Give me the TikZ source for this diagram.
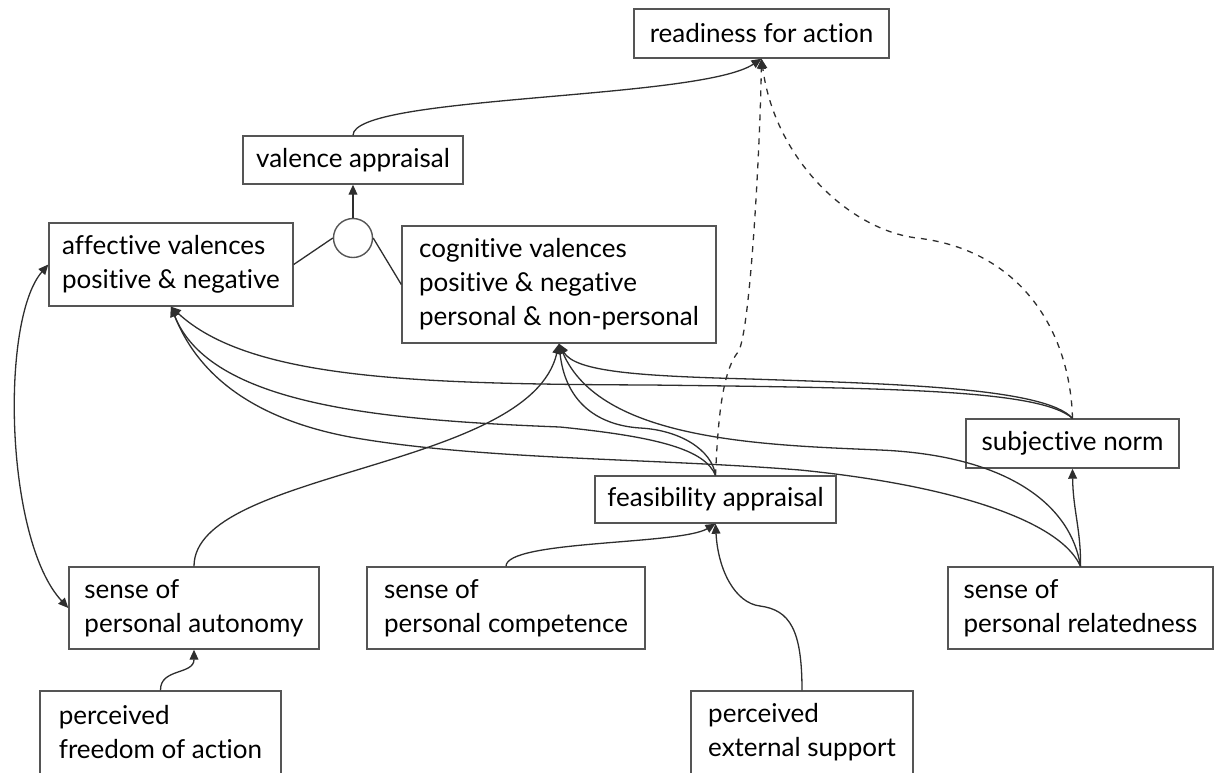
\documentclass[tikz,border=0pt]{standalone}
\usepackage{fontspec}
\setmainfont{Lato}[Ligatures={NoCommon}]
\usetikzlibrary{arrows.meta}
\definecolor{framegray}{HTML}{555555}
\definecolor{linegray}{HTML}{2E2E2E}
\begin{document}
\begin{tikzpicture}[x=0.5pt,y=-0.5pt,
  font=\fontsize{13}{17}\selectfont,
  box/.style={draw=framegray, line width=0.7pt, align=left, inner xsep=6pt, inner ysep=0pt},
  conn/.style={draw=linegray, line width=0.65pt},
  tip/.style={-{Triangle[length=5pt,width=4.4pt]}},
  twotips/.style={{Triangle[length=5pt,width=4.4pt]}-{Triangle[length=5pt,width=4.4pt]}}]
\useasboundingbox (0,0) rectangle (1215,772);

% boxes
\node[box, minimum width=127.5pt, minimum height=24.5pt] (read) at (761.5,33.5) {readiness for action};
\node[box, minimum width=110pt, minimum height=24pt] (val) at (353,160) {valence appraisal};
\node[draw=framegray, line width=0.7pt, circle, minimum size=19.5pt, inner sep=0pt] (join) at (353,238) {};
\node[box, minimum width=122pt, minimum height=41.5pt] (aff) at (171,264.5) {affective valences\\positive \& negative};
\node[box, minimum width=157pt, minimum height=58.5pt] (cog) at (559,284.5) {cognitive valences\\positive \& negative\\personal \& non-personal};
\node[box, minimum width=106.5pt, minimum height=24.5pt] (norm) at (1072.5,443.5) {subjective norm};
\node[box, minimum width=120.5pt, minimum height=23.5pt] (feas) at (715.5,499.5) {feasibility appraisal};
\node[box, minimum width=125pt, minimum height=41pt] (autonomy) at (194,608) {sense of\\personal autonomy};
\node[box, minimum width=139pt, minimum height=41pt] (comp) at (506,608) {sense of\\personal competence};
\node[box, minimum width=132.5pt, minimum height=41pt] (rel) at (1080.5,608) {sense of\\personal relatedness};
\node[box, minimum width=120.5pt, minimum height=41.5pt] (free) at (160.5,732.5) {perceived\\freedom of action};
\node[box, minimum width=111pt, minimum height=41.5pt] (ext) at (802,732.5) {perceived\\external support};

% valence side
\draw[conn,tip] (val.north) .. controls (353,95) and (700,100) .. (read.south);
\draw[conn,tip] (join.north) -- (val.south);
\draw[conn] (aff.east) -- (join.west);
\draw[conn] (join.east) -- (cog.west);

% sources of the valences
\draw[conn,twotips] (aff.west) .. controls (0,320) and (5,540) .. (autonomy.west);
\draw[conn,tip] (free.north) .. controls (160,668) and (194,675) .. (autonomy.south);
\draw[conn,tip] (autonomy.north) .. controls (194,470) and (530,470) .. (cog.south);
\draw[conn,tip] (comp.north) .. controls (506,540) and (680,545) .. (feas.south);
\draw[conn,tip] (ext.north) .. controls (802,630) and (790,610) .. (760,606) .. controls (735,603) and (718,570) .. (feas.south);
\draw[conn,tip] (feas.north) .. controls (712,450) and (680,430) .. (640,428) .. controls (595,425) and (565,400) .. (cog.south);
\draw[conn,tip] (feas.north) .. controls (705,450) and (660,437) .. (560,427) .. controls (380,420) and (210,405) .. (aff.south);
\draw[conn,tip] (rel.north) .. controls (1060,520) and (950,485) .. (800,470) .. controls (650,458) and (480,460) .. (350,437) .. controls (260,420) and (200,380) .. (aff.south);
\draw[conn,tip] (rel.north) .. controls (1070,500) and (1000,455) .. (880,450) .. controls (760,445) and (600,440) .. (cog.south);
\draw[conn,tip] (rel.north) .. controls (1081,530) and (1073,510) .. (norm.south);
\draw[conn,tip] (norm.north) .. controls (1040,390) and (900,388) .. (650,385) .. controls (420,384) and (250,380) .. (aff.south);
\draw[conn,tip] (norm.north) .. controls (1045,388) and (900,384) .. (750,379) .. controls (640,376) and (575,372) .. (cog.south);

% readiness for action
\draw[conn,dashed,tip] (feas.north) .. controls (718,420) and (722,372) .. (738,352) .. controls (750,336) and (760,150) .. (read.south);
\draw[conn,dashed,tip] (norm.north) .. controls (1070,330) and (1020,250) .. (917,238) .. controls (850,230) and (775,160) .. (read.south);
\end{tikzpicture}
\end{document}
